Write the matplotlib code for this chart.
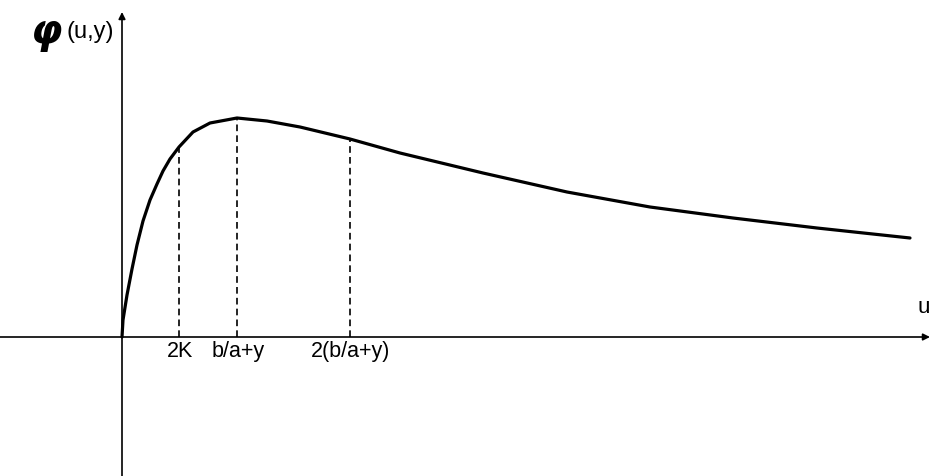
import matplotlib
matplotlib.use("Agg")
import matplotlib.pyplot as plt

# curve (u offset from origin, phi height above the u axis)
u_vals = [0, 1, 5, 10, 15, 21, 28, 35, 41, 48, 57, 71, 88, 115, 145, 178, 228, 278, 361, 445, 528, 611, 695, 788]
phi_vals = [0, 17, 42, 68, 92, 116, 137, 153, 166, 178, 190, 205, 214, 219, 216, 210, 198, 184, 164, 145, 130, 119, 109, 99]

# marked positions
mark_u = [57, 115, 228]
mark_phi = [190, 219, 198]
mark_labels = ["2K", "b/a+y", "2(b/a+y)"]

fig = plt.figure(figsize=(9.31, 4.76), dpi=100)
ax = fig.add_axes([0, 0, 1, 1])
ax.set_xlim(-122, 809)
ax.set_ylim(-139, 337)
ax.axis("off")

# axes with arrows
ax.annotate("", xy=(808, 0), xytext=(-122, 0),
            arrowprops=dict(arrowstyle="-|>", color="black", lw=1.2,
                            mutation_scale=10, shrinkA=0, shrinkB=0))
ax.annotate("", xy=(0, 325), xytext=(0, -139),
            arrowprops=dict(arrowstyle="-|>", color="black", lw=1.2,
                            mutation_scale=10, shrinkA=0, shrinkB=0))

ax.plot(u_vals, phi_vals, color="black", lw=2.3, solid_capstyle="round",
        solid_joinstyle="round")

for u, p, lab in zip(mark_u, mark_phi, mark_labels):
    ax.plot([u, u], [0, p], color="black", lw=1.2, ls=(0, (4, 2.5)))
    ax.text(u + 1, -4, lab, ha="center", va="top", fontsize=15.5,
            family="Liberation Sans")

ax.text(-91, 305, "φ", fontsize=29, fontstyle="italic", fontweight="bold",
        ha="left", va="center", family="DejaVu Sans")
ax.text(-55, 305, "(u,y)", fontsize=17, ha="left", va="center",
        family="Liberation Sans")
ax.text(802, 19, "u", fontsize=16, ha="center", va="bottom",
        family="Liberation Sans")

fig.savefig("out.png", dpi=100)
